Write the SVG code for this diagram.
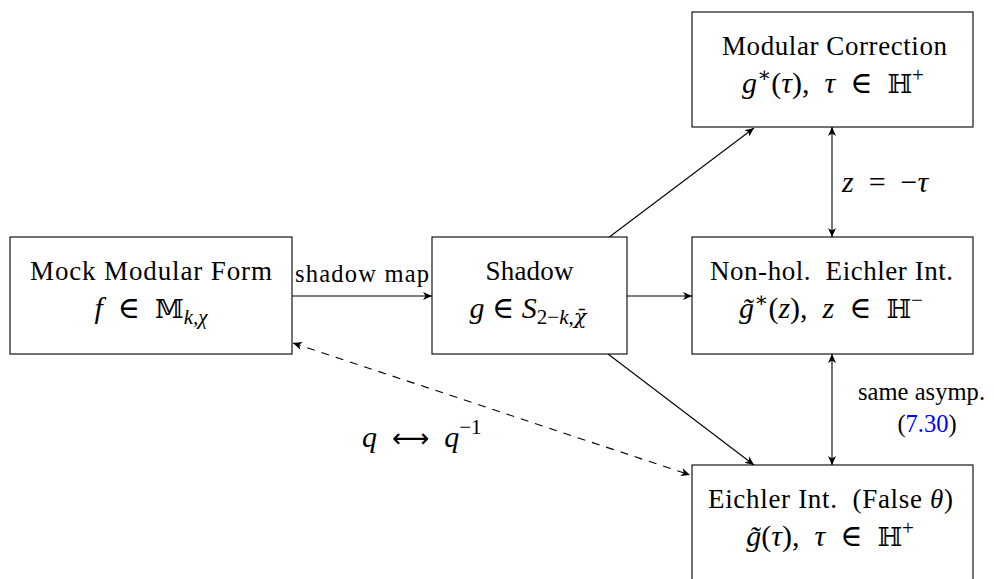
<svg xmlns="http://www.w3.org/2000/svg" width="994" height="579" viewBox="0 0 994 579">
<defs>
<style>
.box{fill:#fff;stroke:#000;stroke-width:1.1}
.t{font-family:"Liberation Serif","DejaVu Serif",serif;font-size:27px;fill:#000;white-space:pre}
.m{font-family:"Liberation Serif","DejaVu Serif",serif;font-size:30px;fill:#000;white-space:pre}
.l{font-family:"Liberation Serif","DejaVu Serif",serif;font-size:24.5px;fill:#000;white-space:pre}
.i{font-style:italic}
.bb{font-family:"DejaVu Serif","DejaVu Sans",serif;font-size:26px}
.ar{font-family:"DejaVu Sans",sans-serif;font-size:26px}
.c{fill:none;stroke:#000;stroke-width:1.1}
.d{stroke-dasharray:8 7}
</style>
<marker id="ah" viewBox="-10 -5 11 10" refX="0" refY="0" markerWidth="11" markerHeight="10" markerUnits="userSpaceOnUse" orient="auto-start-reverse">
<path d="M0,0 L-9,-4 L-6.5,0 L-9,4 Z" fill="#000" stroke="none"/>
</marker>
</defs>
<rect width="994" height="579" fill="#fff"/>

<g id="connectors">
<line class="c" x1="292" y1="296" x2="432" y2="296" marker-end="url(#ah)"/>
<text class="l" x="295" y="282" textLength="134">shadow map</text>
<line class="c" x1="608" y1="238" x2="754" y2="128" marker-end="url(#ah)"/>
<line class="c" x1="627" y1="296" x2="692" y2="296" marker-end="url(#ah)"/>
<line class="c" x1="608" y1="354" x2="754" y2="465" marker-end="url(#ah)"/>
<line class="c" x1="832" y1="127" x2="832" y2="237" marker-start="url(#ah)" marker-end="url(#ah)"/>
<text class="m" x="842" y="192"><tspan class="i">z</tspan>  =  −<tspan class="i">τ</tspan></text>
<line class="c" x1="832" y1="354" x2="832" y2="465" marker-start="url(#ah)" marker-end="url(#ah)"/>
<text class="l" x="858" y="400" textLength="127">same asymp.</text>
<text class="l" x="927" y="432" text-anchor="middle">(<tspan fill="#0000ff">7.30</tspan>)</text>
<line class="c d" x1="293" y1="343" x2="690" y2="475" marker-start="url(#ah)" marker-end="url(#ah)"/>
<text class="m" x="362" y="447"><tspan class="i">q</tspan>  <tspan class="ar">⟷</tspan>  <tspan class="i">q</tspan><tspan font-size="21" dy="-13">−1</tspan></text>
</g>

<g id="mock">
<rect class="box" x="10" y="237" width="282" height="117"/>
<text class="t" x="151" y="280" text-anchor="middle" textLength="242">Mock Modular Form</text>
<text class="m" x="151" y="318" text-anchor="middle"><tspan class="i">f</tspan>  ∈  <tspan class="bb">𝕄</tspan><tspan class="i" font-size="21" dy="6">k,χ</tspan></text>
</g>

<g id="shadow">
<rect class="box" x="432" y="237" width="195" height="117"/>
<text class="t" x="529.5" y="280" text-anchor="middle" textLength="88">Shadow</text>
<text class="m" x="528" y="318" text-anchor="middle"><tspan class="i">g</tspan> ∈ <tspan class="i">S</tspan><tspan font-size="21" dy="6">2−<tspan class="i">k</tspan>,<tspan class="i" font-family="DejaVu Serif">χ̄</tspan></tspan></text>
</g>

<g id="modular">
<rect class="box" x="692" y="12" width="281" height="115"/>
<text class="t" x="834.5" y="55" text-anchor="middle" textLength="225">Modular Correction</text>
<text class="m" x="833" y="93" text-anchor="middle"><tspan class="i">g</tspan><tspan font-size="21" dy="-11">∗</tspan><tspan dy="11">(</tspan><tspan class="i">τ</tspan>),  <tspan class="i">τ</tspan>  ∈  <tspan class="bb">ℍ</tspan><tspan font-size="21" dy="-11">+</tspan></text>
</g>

<g id="nonhol">
<rect class="box" x="692" y="237" width="281" height="117"/>
<text class="t" x="831.5" y="280" text-anchor="middle" textLength="243">Non-hol.  Eichler Int.</text>
<text class="m" x="831" y="318" text-anchor="middle"><tspan class="i">g̃</tspan><tspan font-size="21" dy="-11">∗</tspan><tspan dy="11">(</tspan><tspan class="i">z</tspan>),  <tspan class="i">z</tspan>  ∈  <tspan class="bb">ℍ</tspan><tspan font-size="21" dy="-11">−</tspan></text>
</g>

<g id="eichler">
<rect class="box" x="692" y="465" width="281" height="125"/>
<text class="t" x="830.5" y="508" text-anchor="middle" textLength="245">Eichler Int.  (False <tspan class="i">θ</tspan>)</text>
<text class="m" x="830" y="546" text-anchor="middle"><tspan class="i">g̃</tspan>(<tspan class="i">τ</tspan>),  <tspan class="i">τ</tspan>  ∈  <tspan class="bb">ℍ</tspan><tspan font-size="21" dy="-11">+</tspan></text>
</g>
</svg>
